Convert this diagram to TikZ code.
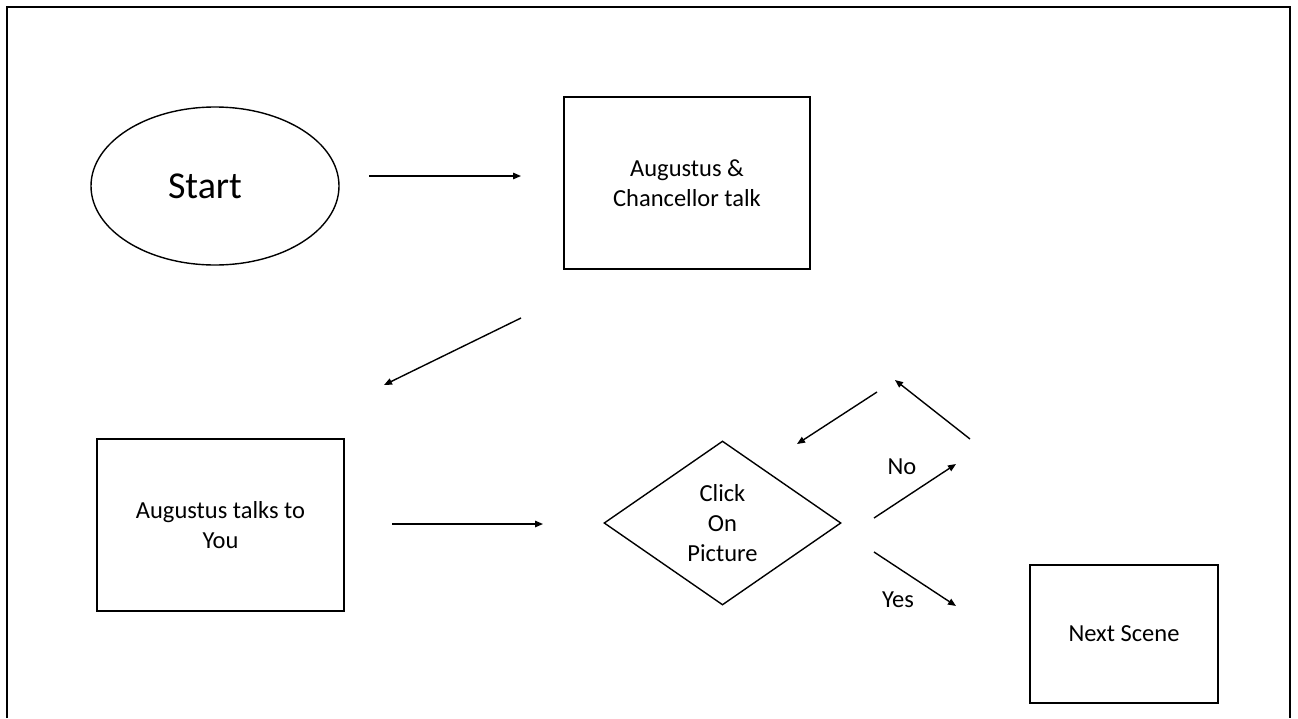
\documentclass[tikz,border=0pt]{standalone}
\usepackage{fontspec}
\setmainfont{Carlito}
\usetikzlibrary{shapes.geometric,arrows.meta}
\begin{document}
\begin{tikzpicture}[x=1pt,y=-1pt,
  shp/.style={draw, line width=1.4pt, inner sep=0pt, align=center, font=\fontsize{24.5}{30}\selectfont},
  arr/.style={line width=1.4pt, -{Triangle[length=8pt,width=6.5pt]}},
  lbl/.style={font=\fontsize{24.5}{30}\selectfont, inner sep=0pt}]
\useasboundingbox (0,0) rectangle (1298,718);
\coordinate (f1) at (7,718);
\coordinate (f2) at (7,7);
\coordinate (f3) at (1290,7);
\coordinate (f4) at (1290,718);
\draw[line width=2.8pt] (f1) -- (f2) -- (f3) -- (f4);

\node[shp, ellipse, minimum width=248pt, minimum height=158pt, font=\fontsize{38}{45}\selectfont] (start) at (215,186) {Start\hspace*{20pt}};
\node[shp, rectangle, minimum width=246pt, minimum height=172pt] (chanc) at (687,183) {Augustus \&\\Chancellor talk};
\node[shp, rectangle, minimum width=247pt, minimum height=172pt] (you) at (220.5,525) {Augustus talks to\\You};
\node[shp, diamond, minimum width=237pt, minimum height=164pt] (click) at (722.5,523) {Click\\On\\Picture};
\node[shp, rectangle, minimum width=188pt, minimum height=138pt] (next) at (1124,634) {Next Scene};

\coordinate (a1s) at (369,176); \coordinate (a1e) at (521,176);
\coordinate (a2s) at (521,318); \coordinate (a2e) at (384,385);
\coordinate (a3s) at (392,524); \coordinate (a3e) at (543,524);
\coordinate (nos) at (874,518); \coordinate (noe) at (956,464);
\coordinate (ups) at (970,439); \coordinate (upe) at (895,380);
\coordinate (dls) at (877,392); \coordinate (dle) at (797,444);
\coordinate (yss) at (874,552); \coordinate (yse) at (956,606);

\draw[arr] (a1s) -- (a1e);
\draw[arr] (a2s) -- (a2e);
\draw[arr] (a3s) -- (a3e);
\draw[arr] (nos) -- (noe);
\draw[arr] (ups) -- (upe);
\draw[arr] (dls) -- (dle);
\draw[arr] (yss) -- (yse);

\node[lbl] (nolbl) at (902,467) {No};
\node[lbl] (yeslbl) at (898,600) {Yes};
\end{tikzpicture}
\end{document}
